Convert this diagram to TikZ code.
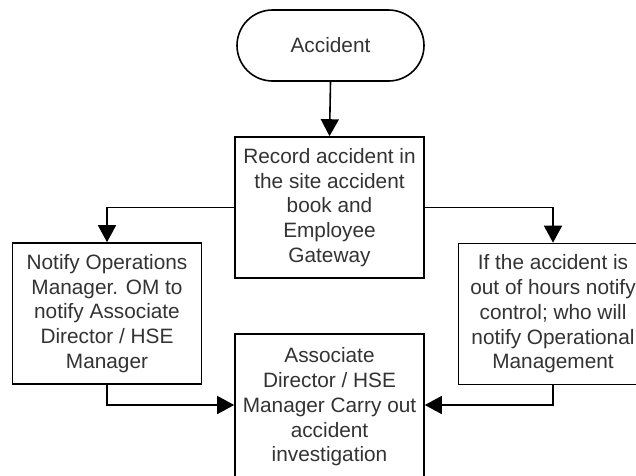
\documentclass[tikz,border=0pt]{standalone}
\usepackage{fontspec}
\setmainfont{Liberation Sans}
\usetikzlibrary{arrows.meta}
\definecolor{txt}{HTML}{333333}
\tikzset{
  box/.style={draw=black, line width=1.6pt, fill=white, minimum width=189pt, minimum height=141pt,
    inner sep=0pt, align=center, text=txt, font=\fontsize{20.8}{24.8}\selectfont},
  term/.style={draw=black, line width=1.6pt, fill=white, minimum width=187pt, minimum height=71pt,
    rounded corners=35.5pt, inner sep=0pt, align=center, text=txt, font=\fontsize{20.8}{24.8}\selectfont},
  conn/.style={draw=black, line width=1.6pt, -{Triangle[length=17pt,width=18pt]}}
}
\begin{document}
\begin{tikzpicture}[x=1pt,y=-1pt]
\useasboundingbox (0,0) rectangle (636,475);
\fill[white] (0,0) rectangle (636,475);
\node[term] (acc) at (330.5,45.5) {Accident};
\node[box] (rec) at (329.5,207.5) {Record accident in\\the site accident\\book and\\Employee\\Gateway};
\node[box] (left) at (107,313.5) {Notify Operations\\Manager. OM to\\notify Associate\\Director / HSE\\Manager};
\node[box] (right) at (553,314) {If the accident is\\out of hours notify\\control; who will\\notify Operational\\Management};
\node[box, minimum height=146pt] (inv) at (329.5,407) {Associate\\Director / HSE\\Manager Carry out\\accident\\investigation};
\draw[conn] (acc.south) -- (rec.north);
\draw[conn] (rec.west) -| (left.north);
\draw[conn] (rec.east) -| (right.north);
\draw[conn] (left.south) |- ([yshift=2pt]inv.west);
\draw[conn] (right.south) |- ([yshift=2pt]inv.east);
\end{tikzpicture}
\end{document}
